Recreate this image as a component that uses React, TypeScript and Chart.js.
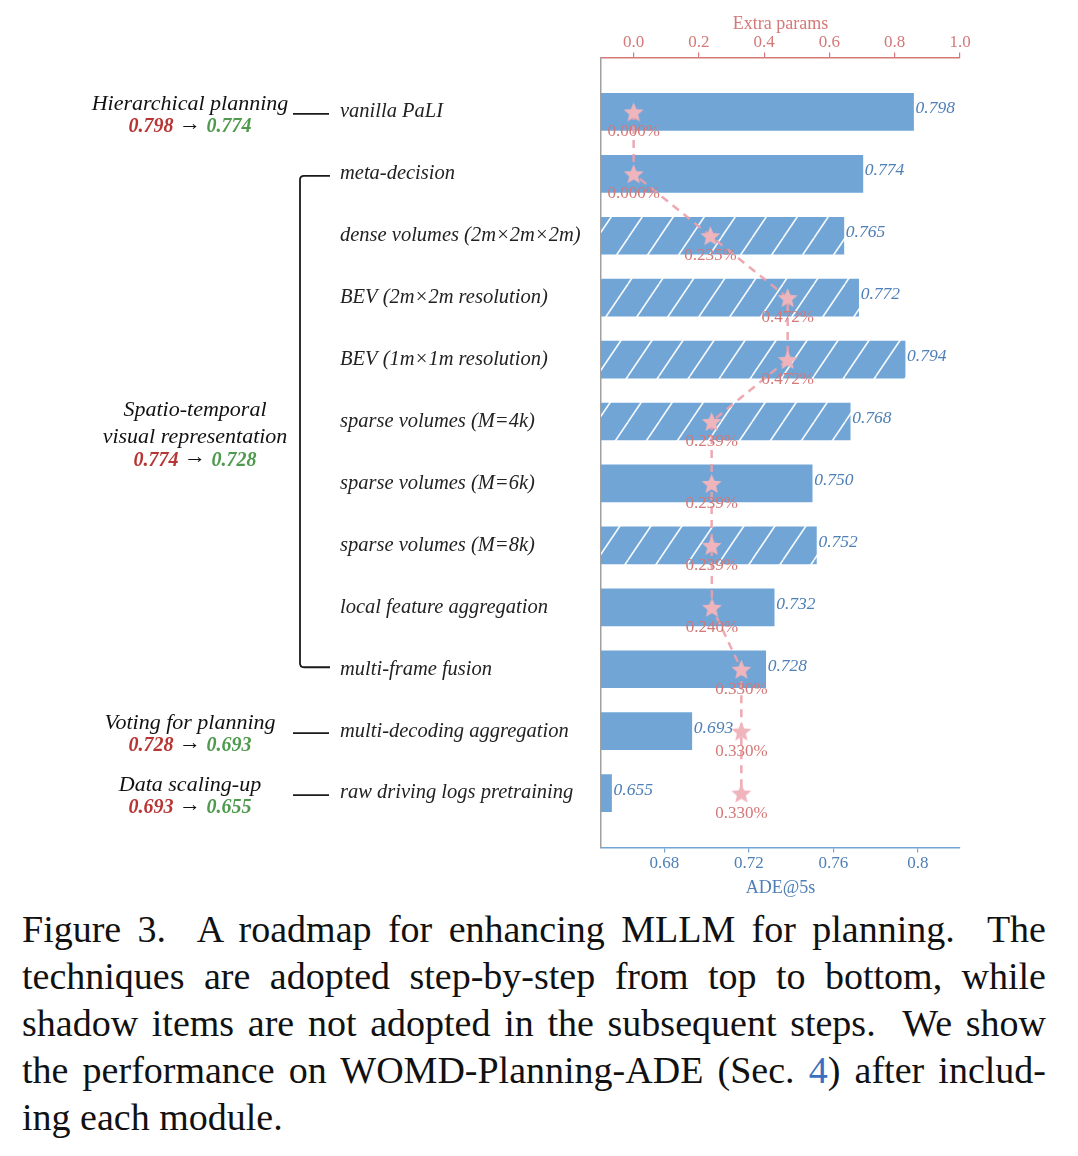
import React, { useEffect, useRef } from "react";
import { Chart, registerables } from "chart.js";

Chart.register(...registerables);

// ---------- data ----------
const categories = [
  "vanilla PaLI",
  "meta-decision",
  "dense volumes (2m×2m×2m)",
  "BEV (2m×2m resolution)",
  "BEV (1m×1m resolution)",
  "sparse volumes (M=4k)",
  "sparse volumes (M=6k)",
  "sparse volumes (M=8k)",
  "local feature aggregation",
  "multi-frame fusion",
  "multi-decoding aggregation",
  "raw driving logs pretraining",
];
const adeValues = [0.798, 0.774, 0.765, 0.772, 0.794, 0.768, 0.75, 0.752, 0.732, 0.728, 0.693, 0.655];
const adeLabels = ["0.798", "0.774", "0.765", "0.772", "0.794", "0.768", "0.750", "0.752", "0.732", "0.728", "0.693", "0.655"];
const extraParams = [0.0, 0.0, 0.235, 0.472, 0.472, 0.239, 0.239, 0.239, 0.24, 0.33, 0.33, 0.33];
const extraParamLabels = ["0.000%", "0.000%", "0.235%", "0.472%", "0.472%", "0.239%", "0.239%", "0.239%", "0.240%", "0.330%", "0.330%", "0.330%"];
const shadowItems = [false, false, true, true, true, true, false, true, false, false, false, false];
const adeTicks = [0.68, 0.72, 0.76, 0.8];
const paramTicks = [0.0, 0.2, 0.4, 0.6, 0.8, 1.0];

const groupTitles = [["Hierarchical planning"], ["Spatio-temporal", "visual representation"], ["Voting for planning"], ["Data scaling-up"]];
const groupStart = [0, 1, 10, 11];
const groupEnd = [0, 9, 10, 11];
const groupFrom = ["0.798", "0.774", "0.728", "0.693"];
const groupTo = ["0.774", "0.728", "0.693", "0.655"];

const captionLines = [
  "Figure 3.  A roadmap for enhancing MLLM for planning.  The",
  "techniques are adopted step-by-step from top to bottom, while",
  "shadow items are not adopted in the subsequent steps.  We show",
  "the performance on WOMD-Planning-ADE (Sec. 4) after includ-",
  "ing each module.",
];

// ---------- styles ----------
const FONT = "'Liberation Serif', 'Times New Roman', serif";
const BAR_BLUE = "#70a5d6";
const LABEL_BLUE = "#4e7fb6";
const PINK = "#d47878";
const STAR_PINK = "#f0b4bc";

function makeHatch(base: string): CanvasPattern | string {
  const w = 31;
  const h = 46;
  const c = document.createElement("canvas");
  c.width = w;
  c.height = h;
  const g = c.getContext("2d");
  if (!g) return base;
  g.fillStyle = base;
  g.fillRect(0, 0, w, h);
  g.strokeStyle = "rgba(255,255,255,0.95)";
  g.lineWidth = 1.6;
  for (const off of [-w, 0, w]) {
    g.beginPath();
    g.moveTo(off, h);
    g.lineTo(off + w, 0);
    g.stroke();
  }
  return g.createPattern(c, "repeat") || base;
}

function makeStar(color: string, r: number): HTMLCanvasElement {
  const s = Math.ceil(r * 2 + 2);
  const c = document.createElement("canvas");
  c.width = s;
  c.height = s;
  const g = c.getContext("2d")!;
  g.translate(s / 2, s / 2 + r * 0.1);
  g.beginPath();
  for (let i = 0; i < 10; i++) {
    const rad = i % 2 ? r * 0.45 : r;
    const a = -Math.PI / 2 + (i * Math.PI) / 5;
    g.lineTo(rad * Math.cos(a), rad * Math.sin(a));
  }
  g.closePath();
  g.fillStyle = color;
  g.fill();
  return c;
}

const annotationsPlugin = {
  id: "annotations",
  afterDatasetsDraw(chart: any) {
    const ctx = chart.ctx as CanvasRenderingContext2D;
    const y = chart.scales.y;
    const x = chart.scales.x;
    const x2 = chart.scales.x2;
    ctx.save();
    // bar value labels
    ctx.font = `italic 17.5px ${FONT}`;
    ctx.fillStyle = LABEL_BLUE;
    ctx.textAlign = "left";
    ctx.textBaseline = "middle";
    adeValues.forEach((v, i) => {
      ctx.fillText(adeLabels[i], x.getPixelForValue(v) + 2, y.getPixelForValue(i) - 3);
    });
    // star labels
    ctx.font = `17px ${FONT}`;
    ctx.fillStyle = PINK;
    ctx.textAlign = "center";
    extraParams.forEach((v, i) => {
      ctx.fillText(extraParamLabels[i], x2.getPixelForValue(v), y.getPixelForValue(i) + 20);
    });
    ctx.restore();
  },
  afterDraw(chart: any) {
    const ctx = chart.ctx as CanvasRenderingContext2D;
    const y = chart.scales.y;
    const textX = 182;
    ctx.save();
    ctx.strokeStyle = "#1a1a1a";
    ctx.lineWidth = 1.8;
    groupTitles.forEach((lines, gi) => {
      const s = groupStart[gi];
      const e = groupEnd[gi];
      const ys = y.getPixelForValue(s);
      const ye = y.getPixelForValue(e);
      let numY: number;
      if (s === e) {
        ctx.beginPath();
        ctx.moveTo(285, ys + 2);
        ctx.lineTo(321, ys + 2);
        ctx.stroke();
        numY = ys + 15;
      } else {
        const bx = 292;
        const y0 = ys + 2;
        const y1 = ye - 2;
        ctx.beginPath();
        ctx.moveTo(322, y0);
        ctx.lineTo(bx + 4, y0);
        ctx.quadraticCurveTo(bx, y0, bx, y0 + 4);
        ctx.lineTo(bx, y1 - 4);
        ctx.quadraticCurveTo(bx, y1, bx + 4, y1);
        ctx.lineTo(322, y1);
        ctx.stroke();
        numY = (ys + ye) / 2 + 39;
      }
      const n = lines.length;
      const lineH = 27;
      const cxCenter = textX + (n > 1 ? 5 : 0);
      ctx.font = `italic 22px ${FONT}`;
      ctx.fillStyle = "#111";
      ctx.textAlign = "center";
      ctx.textBaseline = "middle";
      lines.forEach((t, li) => {
        const ty = numY - 23 - (n - 1 - li) * lineH;
        ctx.fillText(t, cxCenter, ty);
      });
      // numbers
      const fromT = groupFrom[gi];
      const toT = groupTo[gi];
      const arrow = " → ";
      ctx.font = `italic bold 20px ${FONT}`;
      const w1 = ctx.measureText(fromT).width;
      const w3 = ctx.measureText(toT).width;
      ctx.font = `22px ${FONT}`;
      const w2 = ctx.measureText(arrow).width;
      const total = w1 + w2 + w3;
      let cx = cxCenter - total / 2;
      ctx.textAlign = "left";
      ctx.font = `italic bold 20px ${FONT}`;
      ctx.fillStyle = "#b83535";
      ctx.fillText(fromT, cx, numY);
      cx += w1;
      ctx.font = `22px ${FONT}`;
      ctx.fillStyle = "#111";
      ctx.fillText(arrow, cx, numY - 3);
      cx += w2;
      ctx.font = `italic bold 20px ${FONT}`;
      ctx.fillStyle = "#4f9a4f";
      ctx.fillText(toT, cx, numY);
    });
    ctx.restore();
  },
};

export default function App() {
  const ref = useRef<HTMLCanvasElement | null>(null);

  useEffect(() => {
    if (!ref.current) return;
    const hatch = makeHatch(BAR_BLUE);
    const star = makeStar(STAR_PINK, 10.5);
    const chart = new Chart(ref.current, {
      type: "bar",
      data: {
        datasets: [
          {
            type: "line",
            data: extraParams.map((v, i) => ({ x: v, y: i })),
            xAxisID: "x2",
            yAxisID: "y",
            indexAxis: "y",
            borderColor: "rgba(236,160,170,0.9)",
            borderWidth: 2.5,
            borderDash: [8, 6],
            pointStyle: star as any,
            pointRadius: 10,
            fill: false,
            order: 0,
          } as any,
          {
            type: "bar",
            data: adeValues.map((v, i) => ({ x: v, y: i })),
            xAxisID: "x",
            yAxisID: "y",
            backgroundColor: adeValues.map((_, i) => (shadowItems[i] ? hatch : BAR_BLUE)) as any,
            barThickness: 37,
            order: 1,
          } as any,
        ],
      },
      options: {
        indexAxis: "y",
        responsive: false,
        animation: false,
        layout: { padding: { left: 332, right: 110, top: 8.5, bottom: 8 } },
        plugins: { legend: { display: false }, tooltip: { enabled: false } },
        scales: {
          x: {
            type: "linear",
            position: "bottom",
            min: 0.65,
            max: 0.82,
            afterBuildTicks: (s: any) => {
              s.ticks = adeTicks.map((v) => ({ value: v }));
            },
            ticks: {
              callback: (v: any) => String(Number(Number(v).toFixed(2))),
              color: LABEL_BLUE,
              font: { family: FONT, size: 17 },
              padding: 1,
            },
            grid: { drawOnChartArea: false, drawTicks: true, tickLength: 5, color: BAR_BLUE, lineWidth: 1.2 },
            border: { color: BAR_BLUE, width: 1.5 },
            title: { display: true, text: "ADE@5s", color: LABEL_BLUE, font: { family: FONT, size: 18, lineHeight: 1.0 }, padding: { top: 4, bottom: 1 } },
          },
          x2: {
            type: "linear",
            position: "top",
            min: -0.1,
            max: 1.0,
            afterBuildTicks: (s: any) => {
              s.ticks = paramTicks.map((v) => ({ value: v }));
            },
            ticks: {
              callback: (v: any) => Number(v).toFixed(1),
              color: PINK,
              font: { family: FONT, size: 17 },
              padding: 0,
            },
            grid: { drawOnChartArea: false, drawTicks: true, tickLength: 5, color: PINK, lineWidth: 1.2 },
            border: { color: PINK, width: 1.5 },
            title: { display: true, text: "Extra params", color: PINK, font: { family: FONT, size: 18, lineHeight: 0.86 }, padding: 0 },
          },
          y: {
            type: "linear",
            position: "left",
            reverse: true,
            offset: false,
            grace: 0,
            min: -0.88,
            max: 11.88,
            afterBuildTicks: (s: any) => {
              s.ticks = categories.map((_, i) => ({ value: i }));
            },
            afterFit: (s: any) => {
              s.width = 261;
            },
            ticks: {
              callback: (v: any) => categories[Math.round(Number(v))] ?? "",
              crossAlign: "far",
              color: "#222",
              font: { family: FONT, size: 20.5, style: "italic" },
            },
            grid: { display: false, offset: false },
            border: { color: "#a0a0a0", width: 1.5 },
          },
        },
      } as any,
      plugins: [annotationsPlugin],
    });
    return () => chart.destroy();
  }, []);

  return (
    <div style={{ width: 1062 }}>
      <canvas ref={ref} width={1062} height={898} style={{ display: "block" }} />
      <div
        style={{
          marginLeft: 14,
          width: 1024,
          fontFamily: FONT,
          fontSize: 38,
          lineHeight: "47px",
          color: "#111",
        }}
      >
        {captionLines.map((line, i) => {
          const last = i === captionLines.length - 1;
          const parts = line.split("Sec. 4");
          return (
            <div
              key={i}
              style={{
                textAlign: last ? "left" : "justify",
                textAlignLast: last ? "left" : "justify",
                whiteSpace: "pre",
              } as any}
            >
              {parts.length > 1 ? (
                <>
                  {parts[0]}Sec. <span style={{ color: "#3a6fc0" }}>4</span>
                  {parts[1]}
                </>
              ) : (
                line
              )}
            </div>
          );
        })}
      </div>
    </div>
  );
}
